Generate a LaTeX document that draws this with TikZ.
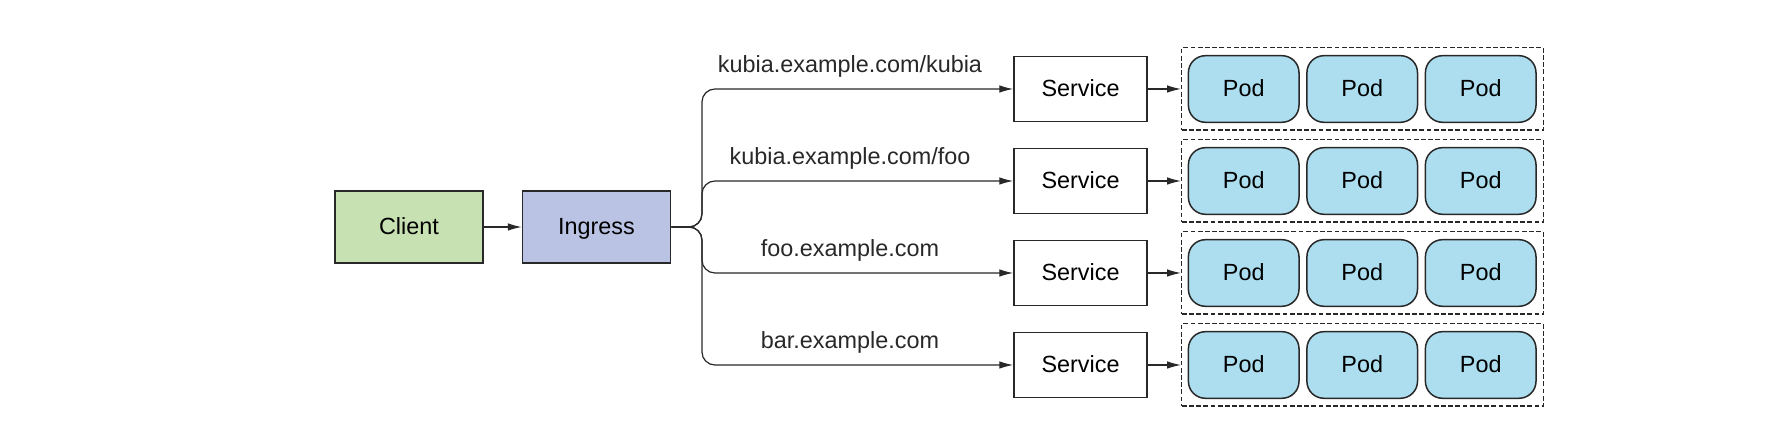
\documentclass[tikz,border=0pt]{standalone}
\usepackage{fontspec}
\setmainfont{Liberation Sans}
\usetikzlibrary{arrows.meta}
\definecolor{clientgreen}{RGB}{199,225,178}
\definecolor{ingressblue}{RGB}{186,195,227}
\definecolor{podblue}{RGB}{172,222,239}
\definecolor{linegray}{RGB}{40,40,40}
\begin{document}
\begin{tikzpicture}[x=0.5pt,y=-0.5pt,font=\fontsize{11.7}{14}\selectfont,
  box/.style={draw=linegray,line width=0.75pt,minimum width=74pt,minimum height=36pt,inner sep=0pt,text height=0.8em,text depth=0pt},
  svc/.style={draw=linegray,line width=0.75pt,fill=white,minimum width=66.5pt,minimum height=32.5pt,inner sep=0pt,text height=0.8em,text depth=0pt},
  pod/.style={draw=linegray,line width=0.75pt,fill=podblue,rounded corners=8.5pt,minimum width=55.3pt,minimum height=33.3pt,inner sep=0pt,text height=0.8em,text depth=0pt},
  grp/.style={draw=linegray,line width=0.7pt,dash pattern=on 2.4pt off 1.2pt,minimum width=180.8pt,minimum height=41.2pt,inner sep=0pt},
  arr/.style={draw=linegray,line width=0.6pt,-{Latex[length=7pt,width=3.8pt]}},
  lbl/.style={anchor=base,inner sep=0pt,text=linegray}]
\def\dy{92}
\useasboundingbox (0,0) rectangle (1772,431);

% Client et Ingress
\node[box,fill=clientgreen] (client) at (409,227) {Client};
\node[box,fill=ingressblue] (ingress) at (596.5,227) {Ingress};
\draw[arr] (client) -- (ingress);

% Services
\node[svc] (svcA) at (1080.5,89) {Service};
\node[svc] (svcB) at (1080.5,89+\dy) {Service};
\node[svc] (svcC) at (1080.5,89+2*\dy) {Service};
\node[svc] (svcD) at (1080.5,89+3*\dy) {Service};

% Routes de l'Ingress
\draw[arr,rounded corners=6.5pt] (ingress.east) -- ++(30.7,0) |- (svcA.west);
\draw[arr,rounded corners=6.5pt] (ingress.east) -- ++(30.7,0) |- (svcB.west);
\draw[arr,rounded corners=6.5pt] (ingress.east) -- ++(30.7,0) |- (svcC.west);
\draw[arr,rounded corners=6.5pt] (ingress.east) -- ++(30.7,0) |- (svcD.west);

\node[lbl] (urlA) at (850,72.5) {kubia.example.com/kubia};
\node[lbl] (urlB) at (850,72.5+\dy) {kubia.example.com/foo};
\node[lbl] (urlC) at (850,72.5+2*\dy) {foo.example.com};
\node[lbl] (urlD) at (850,72.5+3*\dy) {bar.example.com};

% Groupes de pods
\node[grp] (grpA) at (1362.5,89) {};
\node[grp] (grpB) at (1362.5,89+\dy) {};
\node[grp] (grpC) at (1362.5,89+2*\dy) {};
\node[grp] (grpD) at (1362.5,89+3*\dy) {};
\draw[arr] (svcA) -- (grpA);
\draw[arr] (svcB) -- (grpB);
\draw[arr] (svcC) -- (grpC);
\draw[arr] (svcD) -- (grpD);

\foreach \r/\y in {A/89,B/181,C/273,D/365}
  \foreach \i/\x in {1/1243.7,2/1362.2,3/1480.7}
    \node[pod] (pod\r\i) at (\x,\y) {Pod};

\end{tikzpicture}
\end{document}
